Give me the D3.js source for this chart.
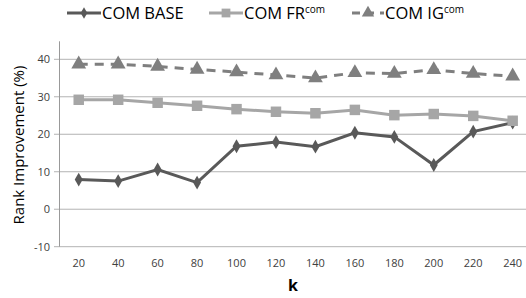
<!DOCTYPE html>
<html>
<head>
<meta charset="utf-8">
<script src="https://cdn.jsdelivr.net/npm/d3@7"></script>
<style>
  body { margin: 0; background: #fff; }
  text { font-family: 'Open Sans', 'Liberation Sans', sans-serif; }
</style>
</head>
<body>
<svg id="chart" width="526" height="298"></svg>
<script>
const categories = [20, 40, 60, 80, 100, 120, 140, 160, 180, 200, 220, 240];
const comBase = [7.9, 7.5, 10.6, 7.1, 16.8, 17.9, 16.7, 20.4, 19.3, 11.8, 20.7, 23.1];
const comFr = [29.2, 29.2, 28.4, 27.6, 26.7, 26.0, 25.6, 26.5, 25.1, 25.4, 24.9, 23.6];
const comIg = [38.7, 38.7, 38.1, 37.3, 36.6, 35.8, 35.0, 36.4, 36.2, 37.2, 36.2, 35.5];
const yTicks = [-10, 0, 10, 20, 30, 40];

const series = [
  { name: 'COM BASE', sup: '', values: comBase, color: '#595959', width: 3, dash: null, symbol: d3.symbolDiamond, size: 55 },
  { name: 'COM FR', sup: 'com', values: comFr, color: '#a6a6a6', width: 3, dash: null, symbol: d3.symbolSquare, size: 110 },
  { name: 'COM IG', sup: 'com', values: comIg, color: '#7f7f7f', width: 3, dash: '9,7', symbol: d3.symbolTriangle, size: 95 },
];

const svg = d3.select('#chart');
const left = 59;
const step = 39.45;

const x = d3.scaleBand().domain(categories).range([left, left + step * 12]);
const y = d3.scaleLinear().domain([-10, 40]).range([246.7, 59.3]);

// gridlines
svg.append('g')
  .selectAll('line')
  .data(yTicks)
  .enter()
  .append('line')
  .attr('x1', left - 5)
  .attr('x2', left + step * 12)
  .attr('y1', (d) => y(d))
  .attr('y2', (d) => y(d))
  .attr('stroke', '#b3b3b3')
  .attr('stroke-width', 1);

// y axis line
svg.append('line')
  .attr('x1', left + 0.5)
  .attr('x2', left + 0.5)
  .attr('y1', y(44.8))
  .attr('y2', y(-10))
  .attr('stroke', '#999')
  .attr('stroke-width', 1);

// tick labels
svg.append('g')
  .selectAll('text')
  .data(yTicks)
  .enter()
  .append('text')
  .attr('x', 50)
  .attr('y', (d) => y(d) + 4)
  .attr('text-anchor', 'end')
  .attr('font-size', 11)
  .attr('fill', '#404040')
  .text((d) => d);

svg.append('g')
  .selectAll('text')
  .data(categories)
  .enter()
  .append('text')
  .attr('x', (d) => x(d) + x.bandwidth() / 2)
  .attr('y', 267)
  .attr('text-anchor', 'middle')
  .attr('font-size', 11)
  .attr('fill', '#404040')
  .text((d) => d);

// axis titles
svg.append('text')
  .attr('x', 293)
  .attr('y', 291)
  .attr('text-anchor', 'middle')
  .attr('font-size', 16)
  .attr('font-weight', 'bold')
  .attr('fill', '#000')
  .text('k');

svg.append('text')
  .attr('transform', 'translate(24,145) rotate(-90)')
  .attr('text-anchor', 'middle')
  .attr('font-size', 15)
  .attr('fill', '#000')
  .text('Rank Improvement (%)');

// series
const line = d3.line()
  .x((d, i) => x(categories[i]) + x.bandwidth() / 2)
  .y((d) => y(d));

series.forEach((s) => {
  const g = svg.append('g');
  g.append('path')
    .datum(s.values)
    .attr('d', line)
    .attr('fill', 'none')
    .attr('stroke', s.color)
    .attr('stroke-width', s.width)
    .attr('stroke-dasharray', s.dash);

  g.selectAll('path.mark')
    .data(s.values)
    .enter()
    .append('path')
    .attr('class', 'mark')
    .attr('d', d3.symbol().type(s.symbol).size(s.size))
    .attr('transform', (d, i) => `translate(${x(categories[i]) + x.bandwidth() / 2},${y(d)})`)
    .attr('fill', s.color);
});

// legend
const legendItems = [
  { s: series[0], x1: 67, x2: 101 },
  { s: series[1], x1: 209, x2: 243 },
  { s: series[2], x1: 352, x2: 384 },
];
const legend = svg.append('g');
legendItems.forEach((item) => {
  const s = item.s;
  legend.append('line')
    .attr('x1', item.x1)
    .attr('x2', item.x2)
    .attr('y1', 13)
    .attr('y2', 13)
    .attr('stroke', s.color)
    .attr('stroke-width', 3)
    .attr('stroke-dasharray', s.dash ? '8,6' : null);
  legend.append('path')
    .attr('d', d3.symbol().type(s.symbol).size(s.size * 0.7))
    .attr('transform', `translate(${(item.x1 + item.x2) / 2},13)`)
    .attr('fill', s.color);
  const t = legend.append('text')
    .attr('x', item.x2 + 1)
    .attr('y', 19)
    .attr('font-size', 16.5)
    .attr('fill', '#000');
  t.append('tspan').text(s.name);
  if (s.sup) {
    t.append('tspan')
      .attr('dy', -6)
      .attr('font-size', 10)
      .text(s.sup);
  }
});
</script>
</body>
</html>
